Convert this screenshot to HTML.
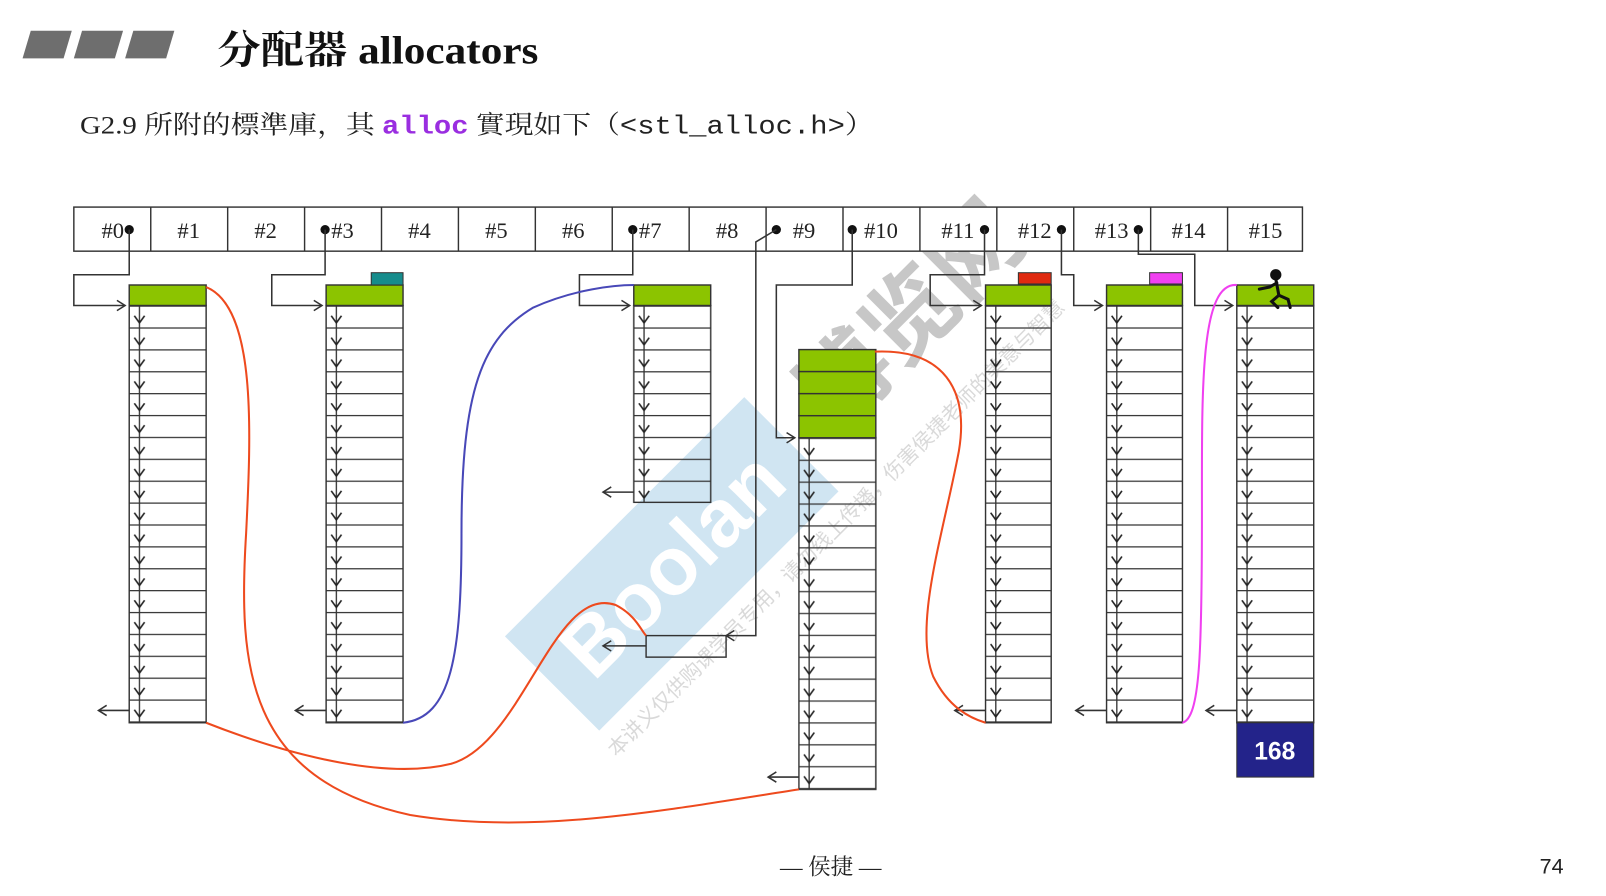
<!DOCTYPE html>
<html><head><meta charset="utf-8"><style>
html,body{margin:0;padding:0;background:#fff;width:1606px;height:896px;overflow:hidden}
svg{display:block}
</style></head><body>
<svg width="1606" height="896" viewBox="0 0 1566 874" preserveAspectRatio="none" xmlns="http://www.w3.org/2000/svg">
<defs>
<pattern id="rows" patternUnits="userSpaceOnUse" width="200" height="21.35" x="0" y="0">
<line x1="0" y1="0.5" x2="200" y2="0.5" stroke="#333" stroke-width="1.4"/>
<line x1="10" y1="0" x2="10" y2="21.35" stroke="#333" stroke-width="1.3"/>
<polyline points="5,10 10,17 15,10" fill="none" stroke="#222" stroke-width="1.6"/>
</pattern>
<marker id="ah" markerWidth="12" markerHeight="12" refX="10" refY="6" orient="auto" markerUnits="userSpaceOnUse">
<polyline points="2,1 10,6 2,11" fill="none" stroke="#333" stroke-width="1.5"/>
</marker>
</defs>

<!-- watermark -->
<g opacity="0.55">
<rect x="490" y="485" width="330" height="130" fill="#a9cfe8" transform="rotate(-45 655 550)"/>
<text x="655" y="578" font-family="Liberation Sans, sans-serif" font-size="80" font-weight="bold" fill="#fff" text-anchor="middle" transform="rotate(-45 655 550)">Boolan</text>
<text x="910" y="330" font-family="Liberation Sans, 'Noto Sans CJK SC', sans-serif" font-size="90" font-weight="bold" fill="#999" text-anchor="middle" transform="rotate(-45 910 330)">博览网</text>
<text x="820" y="520" font-family="Liberation Sans, 'Noto Sans CJK SC', sans-serif" font-size="20" fill="#bbb" text-anchor="middle" transform="rotate(-45 820 520)">本讲义仅供购课学员专用，请勿线上传播，伤害侯捷老师的美意与智慧</text>
</g>

<!-- title -->
<g fill="#6e6e6e">
<polygon points="30,30 70,30 62,57 22,57"/>
<polygon points="80,30 120,30 112,57 72,57"/>
<polygon points="130,30 170,30 162,57 122,57"/>
</g>
<text x="212" y="62" font-family="Liberation Serif, 'Noto Serif CJK SC', serif" font-size="38" font-weight="bold" fill="#111" textLength="313" lengthAdjust="spacingAndGlyphs">分配器 allocators</text>
<text x="78" y="130" font-family="Liberation Serif, 'Noto Serif CJK SC', serif" font-size="25" fill="#222" textLength="774" lengthAdjust="spacingAndGlyphs">G2.9 所附的標準庫，其 <tspan font-family="Liberation Mono, monospace" fill="#9a2ee0" font-weight="bold">alloc</tspan> 實現如下（<tspan font-family="Liberation Mono, monospace">&lt;stl_alloc.h&gt;</tspan>）</text>

<!-- table -->
<g stroke="#333" stroke-width="1.4" fill="none">
<rect x="72" y="202" width="1198" height="43" fill="#fff"/>
<line x1="147" y1="202" x2="147" y2="245"/><line x1="222" y1="202" x2="222" y2="245"/>
<line x1="297" y1="202" x2="297" y2="245"/><line x1="372" y1="202" x2="372" y2="245"/>
<line x1="447" y1="202" x2="447" y2="245"/><line x1="522" y1="202" x2="522" y2="245"/>
<line x1="597" y1="202" x2="597" y2="245"/><line x1="672" y1="202" x2="672" y2="245"/>
<line x1="747" y1="202" x2="747" y2="245"/><line x1="822" y1="202" x2="822" y2="245"/>
<line x1="897" y1="202" x2="897" y2="245"/><line x1="972" y1="202" x2="972" y2="245"/>
<line x1="1047" y1="202" x2="1047" y2="245"/><line x1="1122" y1="202" x2="1122" y2="245"/>
<line x1="1197" y1="202" x2="1197" y2="245"/>
</g>
<g font-family="Liberation Serif, serif" font-size="22" fill="#222" text-anchor="middle">
<text x="110" y="232">#0</text><text x="184" y="232">#1</text><text x="259" y="232">#2</text>
<text x="334" y="232">#3</text><text x="409" y="232">#4</text><text x="484" y="232">#5</text>
<text x="559" y="232">#6</text><text x="634" y="232">#7</text><text x="709" y="232">#8</text>
<text x="784" y="232">#9</text><text x="859" y="232">#10</text><text x="934" y="232">#11</text>
<text x="1009" y="232">#12</text><text x="1084" y="232">#13</text><text x="1159" y="232">#14</text>
<text x="1234" y="232">#15</text>
</g>
<g fill="#111">
<circle cx="126" cy="224" r="4.5"/><circle cx="317" cy="224" r="4.5"/><circle cx="617" cy="224" r="4.5"/>
<circle cx="757" cy="224" r="4.5"/><circle cx="831" cy="224" r="4.5"/><circle cx="960" cy="224" r="4.5"/>
<circle cx="1035" cy="224" r="4.5"/><circle cx="1110" cy="224" r="4.5"/>
</g>

<!-- columns -->
<g transform="translate(126,298)"><rect width="75" height="407" fill="url(#rows)" stroke="#333" stroke-width="1.4"/></g>
<g transform="translate(318,298)"><rect width="75" height="407" fill="url(#rows)" stroke="#333" stroke-width="1.4"/></g>
<g transform="translate(618,298)"><rect width="75" height="192" fill="url(#rows)" stroke="#333" stroke-width="1.4"/></g>
<g transform="translate(779,427)"><rect width="75" height="343" fill="url(#rows)" stroke="#333" stroke-width="1.4"/></g>
<g transform="translate(961,298)"><rect width="64" height="407" fill="url(#rows)" stroke="#333" stroke-width="1.4"/></g>
<g transform="translate(1079,298)"><rect width="74" height="407" fill="url(#rows)" stroke="#333" stroke-width="1.4"/></g>
<g transform="translate(1206,298)"><rect width="75" height="407" fill="url(#rows)" stroke="#333" stroke-width="1.4"/></g>

<!-- green heads -->
<g fill="#8cc400" stroke="#333" stroke-width="1.4">
<rect x="126" y="278" width="75" height="20"/>
<rect x="318" y="278" width="75" height="20"/>
<rect x="618" y="278" width="75" height="20"/>
<rect x="961" y="278" width="64" height="20"/>
<rect x="1079" y="278" width="74" height="20"/>
<rect x="1206" y="278" width="75" height="20"/>
<rect x="779" y="341" width="75" height="21.5"/><rect x="779" y="362.5" width="75" height="21.5"/>
<rect x="779" y="384" width="75" height="21.5"/><rect x="779" y="405.5" width="75" height="21.5"/>
</g>
<rect x="362" y="266" width="31" height="12" fill="#168c8c" stroke="#333"/>
<rect x="993" y="266" width="32" height="11" fill="#e02a10" stroke="#333"/>
<rect x="1121" y="266" width="32" height="11" fill="#f040f0" stroke="#333"/>
<rect x="1206" y="705" width="75" height="53" fill="#23238a" stroke="#333"/>
<text x="1243" y="741" font-family="Liberation Sans, sans-serif" font-size="24" font-weight="bold" fill="#fff" text-anchor="middle">168</text>
<!-- stick figure -->
<g stroke="#111" stroke-width="3" fill="none" stroke-linecap="round">
<circle cx="1244" cy="268" r="4" fill="#111"/>
<line x1="1244" y1="272" x2="1247" y2="288"/>
<polyline points="1228,282 1238,280 1245,276"/>
<polyline points="1247,288 1256,292 1258,300"/>
<polyline points="1247,288 1240,294 1246,300"/>
</g>

<!-- small chunk -->
<rect x="630" y="620" width="78" height="21" fill="none" stroke="#333" stroke-width="1.4"/>

<!-- pointer connectors -->
<g fill="none" stroke="#333" stroke-width="1.5">
<polyline points="126,224 126,268 72,268 72,298 122,298" marker-end="url(#ah)"/>
<polyline points="317,224 317,268 265,268 265,298 314,298" marker-end="url(#ah)"/>
<polyline points="617,224 617,268 565,268 565,298 614,298" marker-end="url(#ah)"/>
<polyline points="831,224 831,278 757,278 757,427 775,427" marker-end="url(#ah)"/>
<polyline points="757,224 737,236 737,620 708,620" marker-end="url(#ah)"/>
<polyline points="960,224 960,268 907,268 907,298 957,298" marker-end="url(#ah)"/>
<polyline points="1035,224 1035,268 1047,268 1047,298 1075,298" marker-end="url(#ah)"/>
<polyline points="1110,224 1110,248 1165,248 1165,298 1202,298" marker-end="url(#ah)"/>
<line x1="126" y1="693" x2="96" y2="693" marker-end="url(#ah)"/>
<line x1="318" y1="693" x2="288" y2="693" marker-end="url(#ah)"/>
<line x1="618" y1="480" x2="588" y2="480" marker-end="url(#ah)"/>
<line x1="630" y1="630" x2="588" y2="630" marker-end="url(#ah)"/>
<line x1="779" y1="758" x2="749" y2="758" marker-end="url(#ah)"/>
<line x1="961" y1="693" x2="931" y2="693" marker-end="url(#ah)"/>
<line x1="1079" y1="693" x2="1049" y2="693" marker-end="url(#ah)"/>
<line x1="1206" y1="693" x2="1176" y2="693" marker-end="url(#ah)"/>
</g>

<!-- curves -->
<g fill="none" stroke-width="2">
<path d="M201,280 C250,300 245,420 240,520 C232,650 240,760 400,795 C520,815 650,790 779,770" stroke="#ee4a1e"/>
<path d="M201,705 C290,740 380,760 440,745 C510,725 540,570 600,590 C620,600 625,615 630,620" stroke="#ee4a1e"/>
<path d="M853,343 C920,340 945,380 935,440 C920,520 890,610 910,660 C925,690 945,700 961,705" stroke="#ee4a1e"/>
<path d="M393,705 C440,700 450,640 450,520 C450,380 470,330 520,300 C560,282 600,278 618,278" stroke="#4848b8"/>
<path d="M1153,705 C1170,700 1172,640 1172,500 C1172,380 1170,275 1206,278" stroke="#f040f0"/>
</g>

<!-- footer -->
<text x="810" y="853" font-family="Liberation Serif, 'Noto Serif CJK SC', serif" font-size="22" fill="#222" text-anchor="middle">— 侯捷 —</text>
<text x="1513" y="852" font-family="Liberation Sans, sans-serif" font-size="21" fill="#222" text-anchor="middle">74</text>
</svg>
</body></html>
